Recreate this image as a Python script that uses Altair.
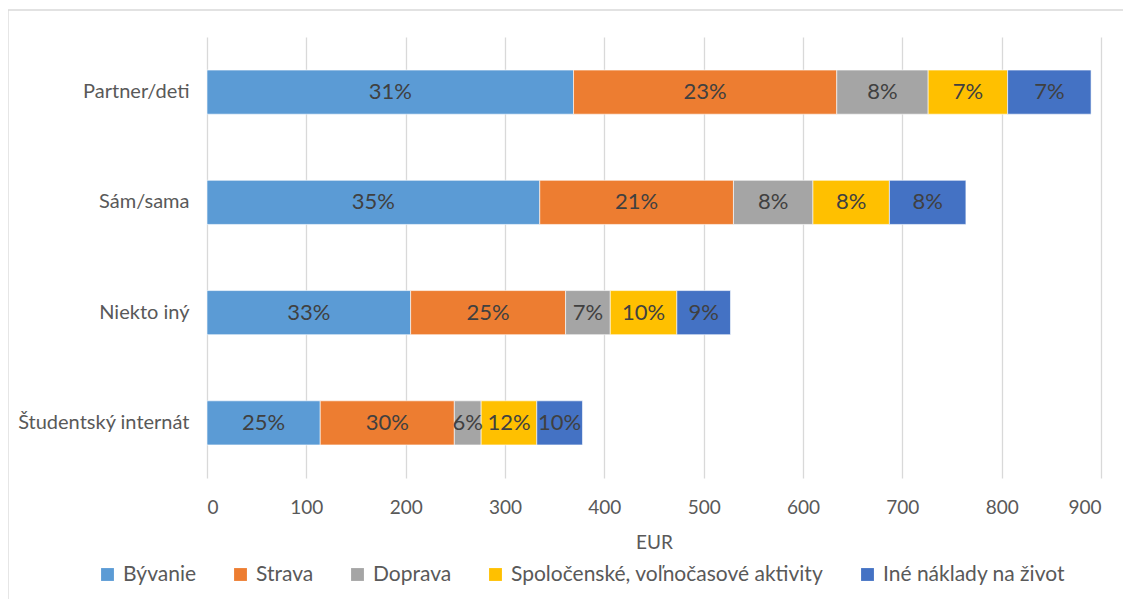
import altair as alt
import pandas as pd

categories = ["Partner/deti", "Sám/sama", "Niekto iný", "Študentský internát"]
series = ["Bývanie", "Strava", "Doprava", "Spoločenské, voľnočasové aktivity", "Iné náklady na život"]
colors = ["#5B9BD5", "#ED7D31", "#A5A5A5", "#FFC000", "#4472C4"]

byvanie = [369, 335, 205, 114]
strava = [265, 195, 156, 135]
doprava = [92, 80, 45, 27]
spolocenske = [80, 77, 67, 56]
ine = [84, 77, 54, 46]

pct_byvanie = [31, 35, 33, 25]
pct_strava = [23, 21, 25, 30]
pct_doprava = [8, 8, 7, 6]
pct_spolocenske = [7, 8, 10, 12]
pct_ine = [7, 8, 9, 10]

x_ticks = [0, 100, 200, 300, 400, 500, 600, 700, 800, 900]

FONT = "Lato"
GRAY = "#595959"

rows = []
for si, (s, vals, pcts) in enumerate(zip(
        series,
        [byvanie, strava, doprava, spolocenske, ine],
        [pct_byvanie, pct_strava, pct_doprava, pct_spolocenske, pct_ine])):
    for c, v, p in zip(categories, vals, pcts):
        rows.append({"kategoria": c, "polozka": s, "poradie": si, "eur": v, "label": f"{p}%"})
df = pd.DataFrame(rows)

base = alt.Chart(df).transform_stack(
    stack="eur", groupby=["kategoria"], sort=[alt.SortField("poradie")], as_=["x0", "x1"]
).transform_calculate(mid="(datum.x0 + datum.x1) / 2")

yenc = alt.Y("kategoria:N", sort=categories,
             scale=alt.Scale(paddingInner=0.6, paddingOuter=0.3),
             axis=alt.Axis(title="", labelFont=FONT, labelFontSize=20, labelColor=GRAY,
                           labelPadding=18, ticks=False, domain=False, grid=False))

bars = base.mark_bar(stroke="white", strokeWidth=0.6).encode(
    x=alt.X("x0:Q", scale=alt.Scale(domain=[0, 900], nice=False),
            axis=alt.Axis(values=x_ticks, title="EUR", grid=True, gridColor="#d9d9d9",
                          gridWidth=1.3, domain=False, ticks=False, labelFont=FONT,
                          labelFontSize=19, labelColor=GRAY, labelPadding=20,
                          titleFont=FONT, titleFontSize=19, titleColor=GRAY,
                          titleFontWeight="normal", titlePadding=16)),
    x2="x1:Q",
    y=yenc,
    color=alt.Color("polozka:N", scale=alt.Scale(domain=series, range=colors),
                    legend=alt.Legend(title=None, orient="none", legendX=-110, legendY=527,
                                      direction="horizontal", columns=5, gridAlign="none",
                                      symbolType="square", labelLimit=600,
                                      symbolSize=165, symbolStrokeWidth=0, labelFont=FONT,
                                      labelFontSize=21, labelColor=GRAY, columnPadding=33,
                                      labelOffset=5)),
)

text = base.mark_text(font=FONT, fontSize=22, color="#404040").encode(
    x="mid:Q",
    y=alt.Y("kategoria:N", sort=categories),
    text="label:N",
)

frame = alt.Chart(pd.DataFrame({"a": [0]})).mark_rect(
    fill="transparent", stroke="#d9d9d9", strokeWidth=1.3
).encode(x=alt.value(-199), x2=alt.value(1200), y=alt.value(-27), y2=alt.value(800))

chart = alt.layer(frame, bars, text).properties(
    width=894, height=441,
    padding={"left": 199, "top": 29, "right": 22, "bottom": 121},
    autosize=alt.AutoSizeParams(type="none"),
).configure_view(strokeWidth=0)

chart.save("out.html", embed_options={"renderer": "svg", "actions": False})
